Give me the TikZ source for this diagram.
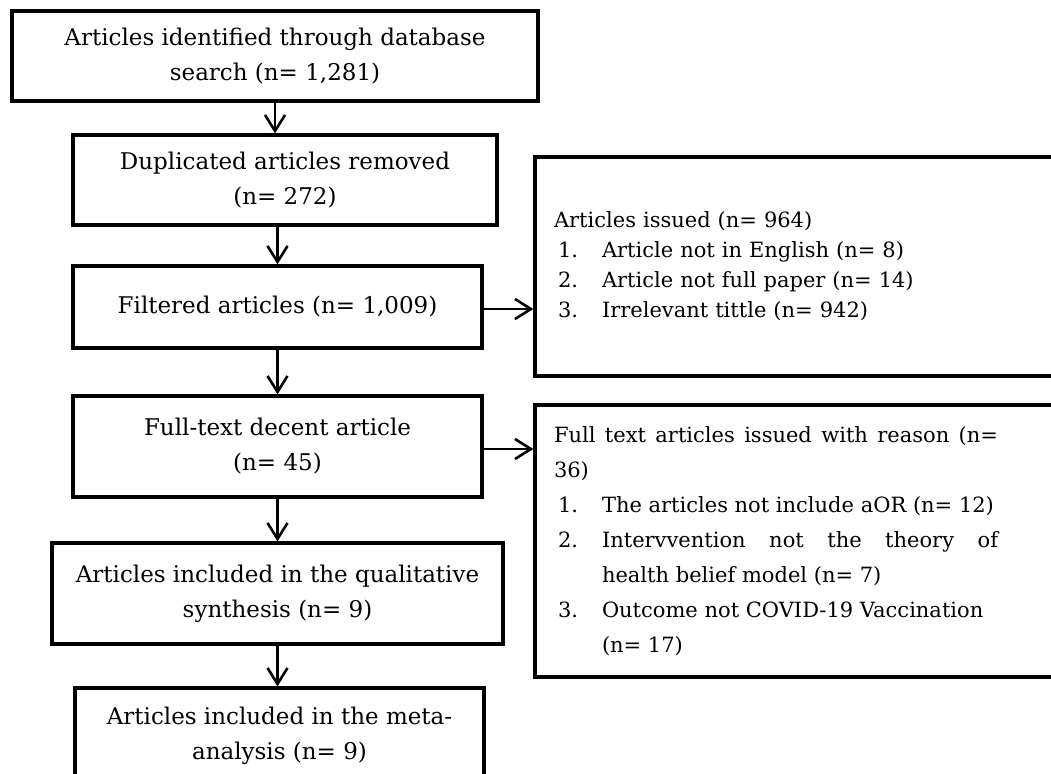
\documentclass[tikz,border=0pt]{standalone}
\usepackage{fontspec}
\setmainfont{DejaVu Serif}
\usetikzlibrary{arrows.meta}
\usetikzlibrary{positioning}

\begin{document}
\begin{tikzpicture}[x=1pt, y=-1pt,
  box/.style={draw, line width=3.2pt, align=center, inner sep=0pt,
    font=\fontsize{23}{35}\selectfont},
  exbox/.style={draw, line width=3.2pt, inner xsep=19pt,
    inner ysep=0pt, text width=497pt},
  arr/.style={line width=2.6pt, -{Straight Barb[length=16pt,width=20pt]}}]
  \useasboundingbox (0,0) rectangle (1051,773);
  \clip (0,0) rectangle (1051,773);

  % main column
  \node[box, minimum width=526pt, minimum height=90pt] (Ident) at (275,56)
    {Articles identified through database\\search (n= 1,281)};
  \node[box, minimum width=424pt, minimum height=90pt] (Dupl) at (285,180)
    {Duplicated articles removed\\(n= 272)};
  \node[box, minimum width=409pt, minimum height=82pt] (Filt) at (277.5,307)
    {Filtered articles (n= 1,009)};
  \node[box, minimum width=409pt, minimum height=101pt] (Full) at (277.5,446.5)
    {Full-text decent article\\(n= 45)};
  \node[box, minimum width=451pt, minimum height=101pt] (Qual) at (277.5,593.5)
    {Articles included in the qualitative\\synthesis (n= 9)};
  \node[box, minimum width=409pt, minimum height=95pt] (Meta) at (279.5,735.5)
    {Articles included in the meta-\\analysis (n= 9)};

  % excluded boxes
  \node[exbox, minimum height=219pt, font=\fontsize{21}{30}\selectfont]
    (ExA) at (802.5,266.5)
    {\noindent\begin{minipage}{444pt}Articles issued (n= 964)\\
     \hspace*{4pt}\makebox[44pt][l]{1.}Article not in English (n= 8)\\
     \hspace*{4pt}\makebox[44pt][l]{2.}Article not full paper (n= 14)\\
     \hspace*{4pt}\makebox[44pt][l]{3.}Irrelevant tittle (n= 942)\end{minipage}};
  \node[exbox, minimum height=272pt, font=\fontsize{21}{35}\selectfont]
    (ExB) at (802.5,541)
    {\noindent\begin{minipage}{444pt}\rightskip=0pt\spaceskip=0pt\xspaceskip=0pt
     \parfillskip=0pt plus 1fil\hyphenpenalty=10000
     Full text articles issued with reason (n=\linebreak 36)\par
     \hangindent=48pt\hangafter=1\hspace*{4pt}\makebox[44pt][l]{1.}The articles not include aOR (n= 12)\par
     \hangindent=48pt\hangafter=1\hspace*{4pt}\makebox[44pt][l]{2.}Intervvention not the theory of\linebreak health belief model (n= 7)\par
     \hangindent=48pt\hangafter=1\hspace*{4pt}\makebox[44pt][l]{3.}Outcome not COVID-19 Vaccination\par
     \hangindent=48pt\hangafter=0\hspace*{0pt}(n= 17)\end{minipage}};

  \draw[arr] (Ident.south) -- (Ident.south |- Dupl.north);
  \draw[arr] (Dupl.south -| Filt.north) -- (Filt.north);
  \draw[arr] (Filt.south) -- (Full.north);
  \draw[arr] (Full.south) -- (Qual.north);
  \draw[arr] (Qual.south) -- (Qual.south |- Meta.north);
  \draw[arr] ([yshift=-2pt]Filt.east) -- ([yshift=-2pt]Filt.east -| ExA.west);
  \draw[arr] ([yshift=-2.5pt]Full.east) -- ([yshift=-2.5pt]Full.east -| ExB.west);
\end{tikzpicture}
\end{document}
